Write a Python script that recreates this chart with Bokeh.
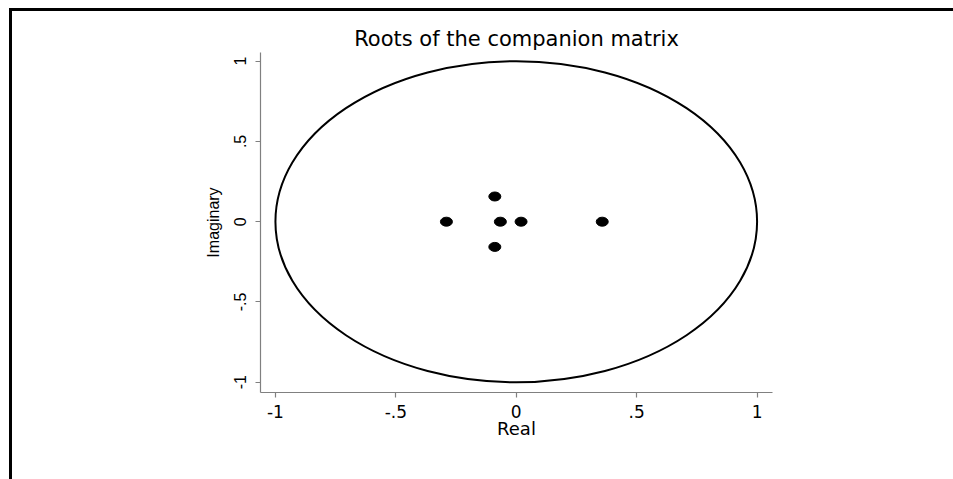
from bokeh.plotting import figure
from bokeh.models import FixedTicker, Range1d
from bokeh.embed import file_html
from bokeh.resources import INLINE

# Data
root_real = [-0.089, -0.089, -0.29, -0.066, 0.020, 0.357]
root_imag = [0.157, -0.157, 0.0, 0.0, 0.0, 0.0]
circle_x = [0.0]
circle_y = [0.0]
circle_diameter = [2.0]
tick_values = [-1, -0.5, 0, 0.5, 1]
tick_labels = ["-1", "-.5", "0", ".5", "1"]

border_bg = ("linear-gradient(#000, #000) 9px 8px / 944px 3px no-repeat, "
             "linear-gradient(#000, #000) 9px 8px / 3px 471px no-repeat, #fff")

p = figure(width=953, height=479, output_backend="svg", toolbar_location=None,
           x_range=Range1d(-1.062, 1.064), y_range=Range1d(-1.064, 1.054),
           frame_width=512, frame_height=340,
           min_border_left=260, min_border_right=181, min_border_top=52, min_border_bottom=87,
           title="Roots of the companion matrix", styles={"background": border_bg})

p.background_fill_color = "white"
p.border_fill_color = None
p.outline_line_color = None
p.xgrid.visible = False
p.ygrid.visible = False

p.title.align = "center"
p.title.text_font = "DejaVu Sans"
p.title.text_font_size = "21px"
p.title.text_font_style = "normal"
p.title.text_color = "black"
p.title.standoff = 3

for ax in (p.xaxis[0], p.yaxis[0]):
    ax.ticker = FixedTicker(ticks=tick_values)
    ax.major_label_overrides = dict(zip(tick_values, tick_labels))
    ax.axis_line_color = "#808080"
    ax.axis_line_width = 1.2
    ax.major_tick_line_color = "#808080"
    ax.major_tick_line_width = 1.2
    ax.major_tick_out = 5
    ax.major_tick_in = 0
    ax.minor_tick_line_color = None
    ax.major_label_text_color = "black"
    ax.axis_label_text_color = "black"
    ax.axis_label_text_font_style = "normal"

p.xaxis.axis_label = "Real"
p.xaxis.major_label_text_font = "DejaVu Sans"
p.xaxis.major_label_text_font_size = "17px"
p.xaxis.major_label_standoff = 7
p.xaxis.axis_label_text_font = "DejaVu Sans"
p.xaxis.axis_label_text_font_size = "18px"
p.xaxis.axis_label_standoff = -3

p.yaxis.axis_label = "Imaginary"
p.yaxis.major_label_orientation = "vertical"
p.yaxis.major_label_text_font = "Liberation Sans"
p.yaxis.major_label_text_font_size = "16px"
p.yaxis.major_label_standoff = 9
p.yaxis.axis_label_text_font = "Liberation Sans"
p.yaxis.axis_label_text_font_size = "16px"
p.yaxis.axis_label_standoff = 10

# Unit circle
p.ellipse(x=circle_x, y=circle_y, width=circle_diameter, height=circle_diameter,
          fill_color=None, line_color="black", line_width=2)

# Roots
p.ellipse(x=root_real, y=root_imag, width=12, height=9,
          width_units="screen", height_units="screen",
          fill_color="black", line_color="black")

open("out.html", "w").write(file_html(p, INLINE))
